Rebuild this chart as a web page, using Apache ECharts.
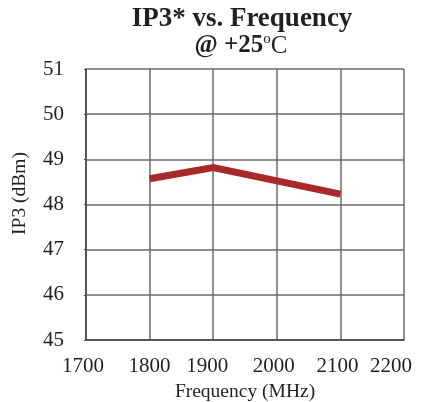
<!DOCTYPE html>
<html>
<head>
<meta charset="utf-8">
<script src="https://cdn.jsdelivr.net/npm/echarts@6/dist/echarts.min.js"></script>
<style>html,body{margin:0;padding:0;background:#fff}#c{width:423px;height:402px}</style>
</head>
<body>
<div id="c"></div>
<script>
var titleMain = 'IP3* vs. Frequency';
var titleTempPrefix = '@ +25';
var titleDegree = 'o';
var titleUnit = 'C';
var xName = 'Frequency (MHz)';
var yName = 'IP3 (dBm)';
var freqMHz = [1800, 1900, 2100];
var ip3dBm = [48.57, 48.82, 48.23];
var xMin = 1700, xMax = 2200, xStep = 100;
var yMin = 45, yMax = 51, yStep = 1;

var serif = '"Liberation Serif", "Times New Roman", serif';
var ink = '#231f20';
var gridCol = '#6a6a6a';

var xPadRight = {1700: 6, 1800: 0, 1900: 12, 2000: 6, 2100: 6, 2200: 26};

var chart = echarts.init(document.getElementById('c'), null, {renderer: 'canvas'});
chart.setOption({
  animation: false,
  backgroundColor: '#fff',
  grid: {left: 86, right: 19, top: 69, bottom: 62, containLabel: false, outerBoundsMode: 'none'},
  graphic: [
    {type: 'text', x: 242, y: 19,
     style: {text: titleMain, font: 'bold 27px ' + serif, fill: ink, align: 'center', verticalAlign: 'middle'}},
    {type: 'text', x: 241, y: 46,
     style: {text: '{b|' + titleTempPrefix + '}{s|' + titleDegree + '}{r|' + titleUnit + '}',
       align: 'center', verticalAlign: 'middle', fill: ink,
       rich: {
         b: {fontFamily: serif, fontWeight: 'bold', fontSize: 25, fill: ink, lineHeight: 28},
         s: {fontFamily: serif, fontSize: 15, fill: ink, verticalAlign: 'top', lineHeight: 28, padding: [0, 0, 10, 0]},
         r: {fontFamily: serif, fontSize: 25, fill: ink, lineHeight: 28}
       }}}
  ],
  xAxis: {
    type: 'value', min: xMin, max: xMax, interval: xStep,
    name: xName, nameLocation: 'middle', nameGap: 41,
    nameTextStyle: {fontFamily: serif, fontSize: 19.5, color: ink},
    axisLine: {show: true, lineStyle: {color: '#444', width: 1.5}},
    axisTick: {show: false},
    splitLine: {show: true, lineStyle: {color: gridCol, width: 1.5}},
    axisLabel: {
      margin: 16, fontFamily: serif, fontSize: 21, color: ink,
      formatter: function (v) { return '{p' + v + '|' + v + '}'; },
      rich: (function () {
        var r = {};
        for (var k in xPadRight) r['p' + k] = {fontFamily: serif, fontSize: 21, color: ink, padding: [0, xPadRight[k], 0, 0]};
        return r;
      })()
    }
  },
  yAxis: {
    type: 'value', min: yMin, max: yMax, interval: yStep,
    name: yName, nameLocation: 'middle', nameGap: 56, nameRotate: 90,
    nameTextStyle: {fontFamily: serif, fontSize: 19.5, color: ink, padding: [0, 0, 0, 22]},
    axisLine: {show: true, lineStyle: {color: '#444', width: 1.5}},
    axisTick: {show: true, length: 2, lineStyle: {color: '#444'}},
    splitLine: {show: true, lineStyle: {color: gridCol, width: 1.5}},
    axisLabel: {margin: 22, fontFamily: serif, fontSize: 21, color: ink}
  },
  series: [{
    type: 'line',
    data: freqMHz.map(function (f, i) { return [f, ip3dBm[i]]; }),
    showSymbol: false, symbol: 'none',
    lineStyle: {color: '#a8292b', width: 7, cap: 'butt', join: 'miter'},
    itemStyle: {color: '#a8292b'}
  }]
});
</script>
</body>
</html>
